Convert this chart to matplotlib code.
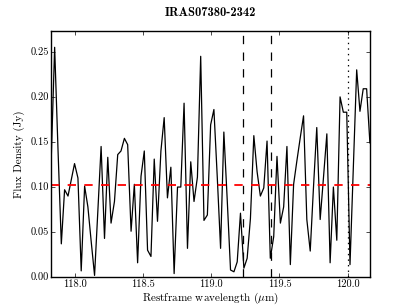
import numpy as np
import matplotlib
matplotlib.use('Agg')
import matplotlib.pyplot as plt

plt.style.use('classic')
plt.rcParams['font.family'] = 'serif'
plt.rcParams['font.serif'] = ['cmr10']
plt.rcParams['mathtext.fontset'] = 'cm'
plt.rcParams['axes.formatter.use_mathtext'] = True

# Restframe wavelength (micron) and flux density (Jy)
wavelength = [
    117.826, 117.850, 117.875, 117.899, 117.923, 117.948, 117.972, 117.996,
    118.021, 118.045, 118.070, 118.094, 118.118, 118.143, 118.167, 118.191,
    118.216, 118.240, 118.264, 118.289, 118.313, 118.337, 118.362, 118.386,
    118.411, 118.435, 118.459, 118.484, 118.508, 118.532, 118.557, 118.581,
    118.605, 118.630, 118.654, 118.678, 118.703, 118.727, 118.752, 118.776,
    118.800, 118.825, 118.849, 118.873, 118.898, 118.922, 118.946, 118.971,
    118.995, 119.019, 119.044, 119.068, 119.092, 119.117, 119.141, 119.166,
    119.190, 119.214, 119.239, 119.263, 119.287, 119.312, 119.336, 119.360,
    119.385, 119.409, 119.433, 119.458, 119.482, 119.507, 119.531, 119.555,
    119.580, 119.604, 119.628, 119.653, 119.677, 119.701, 119.726, 119.750,
    119.774, 119.799, 119.823, 119.848, 119.872, 119.896, 119.921, 119.945,
    119.969, 119.994, 120.018, 120.042, 120.067, 120.091, 120.115, 120.140,
    120.164,
]
flux = [
    0.136, 0.255, 0.140, 0.037, 0.097, 0.090, 0.108, 0.126,
    0.110, 0.007, 0.101, 0.078, 0.040, 0.002, 0.073, 0.145,
    0.043, 0.133, 0.060, 0.084, 0.136, 0.140, 0.154, 0.147,
    0.051, 0.103, 0.016, 0.112, 0.140, 0.030, 0.023, 0.131,
    0.062, 0.140, 0.177, 0.088, 0.122, 0.004, 0.100, 0.100,
    0.193, 0.032, 0.128, 0.084, 0.111, 0.245, 0.063, 0.069,
    0.169, 0.186, 0.110, 0.032, 0.161, 0.085, 0.008, 0.006,
    0.017, 0.071, 0.010, 0.021, 0.065, 0.157, 0.117, 0.090,
    0.099, 0.151, 0.021, 0.045, 0.134, 0.060, 0.078, 0.145,
    0.014, 0.103, 0.129, 0.155, 0.179, 0.064, 0.029, 0.100,
    0.166, 0.064, 0.110, 0.159, 0.016, 0.100, 0.041, 0.200,
    0.183, 0.183, 0.014, 0.120, 0.230, 0.184, 0.209, 0.209,
    0.149,
]
continuum = 0.102
oh_lines = [119.233, 119.441]
dotted_line = 120.0

fig = plt.figure(figsize=(4.11, 3.08), dpi=100, facecolor='white')
ax = fig.add_axes([0.125, 0.1, 0.775, 0.8])

ax.plot(wavelength, flux, color='black', lw=0.9)
ax.axhline(continuum, color='red', ls='--', lw=1.3)
for w in oh_lines:
    ax.axvline(w, color='black', ls='--', lw=0.9)
ax.axvline(dotted_line, color='black', ls=':', lw=0.9)

ax.set_xlim(min(wavelength), max(wavelength))
ax.set_ylim(0, 0.2733)
ax.set_xticks([118.0, 118.5, 119.0, 119.5, 120.0])
ax.set_yticks([0.0, 0.05, 0.10, 0.15, 0.20, 0.25])
ax.set_xticklabels(['118.0', '118.5', '119.0', '119.5', '120.0'])
ax.set_yticklabels(['0.00', '0.05', '0.10', '0.15', '0.20', '0.25'])
ax.tick_params(labelsize=7.5, length=3, pad=2)

ax.set_xlabel(r'Restframe wavelength ($\mu$m)', fontsize=8, labelpad=1)
ax.set_ylabel('Flux Density (Jy)', fontsize=8, labelpad=4)
ax.set_title('IRAS07380-2342', fontsize=9, fontname='cmb10', pad=11)

fig.savefig('out.png', dpi=100, facecolor='white')
